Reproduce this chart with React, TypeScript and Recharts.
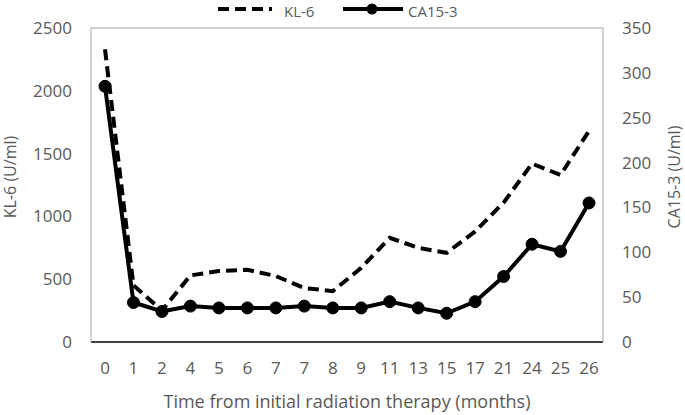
import React from "react";
import { LineChart, Line, XAxis, YAxis, ReferenceLine } from "recharts";

const months = ["0", "1", "2", "4", "5", "6", "7", "7", "8", "9", "11", "13", "15", "17", "21", "24", "25", "26"];
const kl6 = [2330, 450, 250, 530, 565, 575, 525, 430, 405, 590, 830, 750, 710, 880, 1110, 1420, 1330, 1680];
const ca153 = [285, 44, 34, 40, 38, 38, 38, 40, 38, 38, 45, 38, 32, 45, 73, 109, 101, 155];
const leftTicks = [0, 500, 1000, 1500, 2000, 2500];
const rightTicks = [0, 50, 100, 150, 200, 250, 300, 350];

const data = months.map((m, i) => ({ idx: i, month: m, kl6: kl6[i], ca153: ca153[i] }));

const FONT = "'Open Sans', sans-serif";
const GREY = "#595959";

export default function App() {
  return (
    <div style={{ position: "absolute", left: 0, top: 0, width: 685, height: 415, background: "#fff", fontFamily: FONT }}>
      <LineChart
        width={685}
        height={415}
        data={data}
        margin={{ top: 28, right: 0, bottom: 0, left: 0 }}
      >
        <XAxis
          dataKey="idx"
          xAxisId="x"
          type="category"
          tickFormatter={(v: number) => months[v]}
          interval={0}
          height={73}
          padding={{ left: 14, right: 14 }}
          tickSize={0}
          tickMargin={20}
          axisLine={{ stroke: "#404040", strokeWidth: 2 }}
          tickLine={false}
          tick={{ fill: GREY, fontSize: 17, fontFamily: FONT }}
          label={{ value: "Time from initial radiation therapy (months)", position: "insideBottom", offset: 7, fill: GREY, fontSize: 18, fontFamily: FONT }}
        />
        <YAxis
          yAxisId="left"
          orientation="left"
          width={91}
          domain={[0, 2500]}
          ticks={leftTicks}
          interval={0}
          tickSize={0}
          tickMargin={19}
          axisLine={{ stroke: "#a6a6a6", strokeWidth: 1 }}
          tickLine={false}
          tick={{ fill: GREY, fontSize: 17, fontFamily: FONT }}
        />
        <YAxis
          yAxisId="right"
          orientation="right"
          width={82}
          domain={[0, 350]}
          ticks={rightTicks}
          interval={0}
          tickSize={0}
          tickMargin={19}
          axisLine={{ stroke: "#a6a6a6", strokeWidth: 1 }}
          tickLine={false}
          tick={{ fill: GREY, fontSize: 17, fontFamily: FONT }}
        />
        <ReferenceLine yAxisId="left" xAxisId="x" y={2500} stroke="#a6a6a6" strokeWidth={1} />
        <Line
          xAxisId="x"
          yAxisId="left"
          type="linear"
          dataKey="kl6"
          stroke="#000"
          strokeWidth={4}
          strokeDasharray="11 6"
          dot={false}
          isAnimationActive={false}
        />
        <Line
          xAxisId="x"
          yAxisId="right"
          type="linear"
          dataKey="ca153"
          stroke="#000"
          strokeWidth={4}
          dot={{ r: 6, fill: "#000", stroke: "#000", strokeWidth: 1 }}
          isAnimationActive={false}
        />
      </LineChart>
      <svg width={685} height={415} style={{ position: "absolute", left: 0, top: 0, pointerEvents: "none" }}>
        <line x1={218} y1={9} x2={272} y2={9} stroke="#000" strokeWidth={4} strokeDasharray="11 6" />
        <text x={284} y={16.5} fill={GREY} fontSize={15} fontFamily={FONT}>KL-6</text>
        <line x1={343} y1={9} x2={403} y2={9} stroke="#000" strokeWidth={4} />
        <circle cx={372} cy={9} r={5.5} fill="#000" />
        <text x={408} y={16.5} fill={GREY} fontSize={15} fontFamily={FONT}>CA15-3</text>
        <text x={16} y={177} transform="rotate(-90 16 177)" textAnchor="middle" fill={GREY} fontSize={16} fontFamily={FONT}>KL-6 (U/ml)</text>
        <text x={680} y={177} transform="rotate(-90 680 177)" textAnchor="middle" fill={GREY} fontSize={16} fontFamily={FONT}>CA15-3 (U/ml)</text>
      </svg>
    </div>
  );
}
